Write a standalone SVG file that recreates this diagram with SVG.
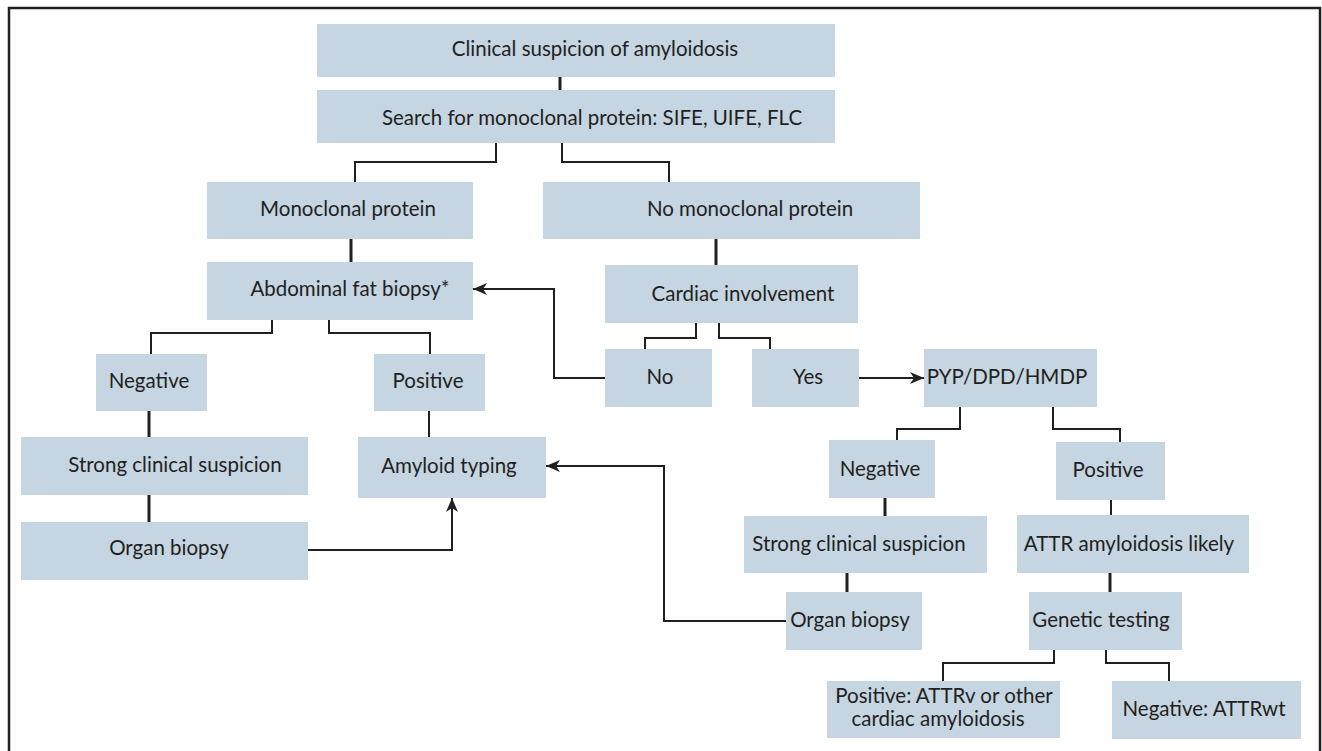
<svg xmlns="http://www.w3.org/2000/svg" width="1322" height="751" viewBox="0 0 1322 751">
<defs>
<style>
.box{fill:#c5d5e2}
.t{font-family:Lato,"Noto Sans",sans-serif;font-size:20.5px;fill:#231f20;text-anchor:middle}
.ln{fill:none;stroke:#231f20;stroke-width:2}
.thk{fill:none;stroke:#231f20;stroke-width:3}
</style>
<marker id="arr" viewBox="0 0 14 12" refX="14" refY="6" markerWidth="14" markerHeight="12" markerUnits="userSpaceOnUse" orient="auto">
<path d="M0,0 L14,6 L0,12 L4,6 z" fill="#231f20"/>
</marker>
</defs>
<rect width="1322" height="751" fill="#fff"/>
<rect x="9" y="8" width="1311" height="760" fill="none" stroke="#231f20" stroke-width="2.5"/>
<g id="connectors">
<path class="thk" d="M560,77 V90"/>
<path class="ln" d="M496,143 V162 H355 V182"/>
<path class="ln" d="M562,143 V162 H669 V182"/>
<path class="thk" d="M351,239 V262"/>
<path class="thk" d="M716,239 V265"/>
<path class="ln" d="M272,320 V333 H151 V354"/>
<path class="ln" d="M329,320 V333 H430 V354"/>
<path class="ln" d="M696,323 V338 H645 V349"/>
<path class="ln" d="M719,323 V338 H770 V349"/>
<path class="ln" d="M605,378 H554 V289 H473" marker-end="url(#arr)"/>
<path class="ln" d="M859,378 H924" marker-end="url(#arr)"/>
<path class="thk" d="M149,411 V437"/>
<path class="thk" d="M149,495 V522"/>
<path class="ln" d="M429,411 V437"/>
<path class="ln" d="M308,550 H452 V498" marker-end="url(#arr)"/>
<path class="ln" d="M786,621 H664 V466 H546" marker-end="url(#arr)"/>
<path class="ln" d="M960,407 V429 H897 V440"/>
<path class="ln" d="M1053,407 V429 H1120 V442"/>
<path class="thk" d="M885,498 V516"/>
<path class="ln" d="M1111,500 V515"/>
<path class="thk" d="M847,573 V592"/>
<path class="thk" d="M1110,573 V592"/>
<path class="ln" d="M1054,650 V663 H943 V681"/>
<path class="ln" d="M1106,650 V663 H1169 V681"/>
</g>
<g id="n1"><rect class="box" x="317" y="24" width="518" height="53"/><text class="t" x="595" y="56">Clinical suspicion of amyloidosis</text></g>
<g id="n2"><rect class="box" x="317" y="90" width="518" height="53"/><text class="t" x="592" y="125">Search for monoclonal protein: SIFE, UIFE, FLC</text></g>
<g id="n3"><rect class="box" x="207" y="182" width="266" height="57"/><text class="t" x="348" y="216">Monoclonal protein</text></g>
<g id="n4"><rect class="box" x="543" y="182" width="377" height="57"/><text class="t" x="750" y="216">No monoclonal protein</text></g>
<g id="n5"><rect class="box" x="207" y="262" width="266" height="58"/><text class="t" x="350" y="296">Abdominal fat biopsy*</text></g>
<g id="n6"><rect class="box" x="605" y="265" width="253" height="58"/><text class="t" x="743" y="301">Cardiac involvement</text></g>
<g id="n7"><rect class="box" x="605" y="349" width="107" height="58"/><text class="t" x="660" y="384">No</text></g>
<g id="n8"><rect class="box" x="752" y="349" width="107" height="58"/><text class="t" x="808" y="384">Yes</text></g>
<g id="n9"><rect class="box" x="924" y="349" width="173" height="58"/><text class="t" x="1007" y="384">PYP/DPD/HMDP</text></g>
<g id="n10"><rect class="box" x="96" y="354" width="111" height="57"/><text class="t" x="149" y="388">Negative</text></g>
<g id="n11"><rect class="box" x="374" y="354" width="111" height="57"/><text class="t" x="428" y="388">Positive</text></g>
<g id="n12"><rect class="box" x="21" y="437" width="287" height="58"/><text class="t" x="175" y="472">Strong clinical suspicion</text></g>
<g id="n13"><rect class="box" x="358" y="437" width="188" height="61"/><text class="t" x="449" y="473">Amyloid typing</text></g>
<g id="n14"><rect class="box" x="21" y="522" width="287" height="58"/><text class="t" x="169" y="555">Organ biopsy</text></g>
<g id="n15"><rect class="box" x="829" y="440" width="106" height="58"/><text class="t" x="880" y="476">Negative</text></g>
<g id="n16"><rect class="box" x="1056" y="442" width="109" height="58"/><text class="t" x="1108" y="477">Positive</text></g>
<g id="n17"><rect class="box" x="744" y="516" width="243" height="57"/><text class="t" x="859" y="551">Strong clinical suspicion</text></g>
<g id="n18"><rect class="box" x="1017" y="515" width="232" height="58"/><text class="t" x="1129" y="551">ATTR amyloidosis likely</text></g>
<g id="n19"><rect class="box" x="786" y="592" width="136" height="58"/><text class="t" x="850" y="627">Organ biopsy</text></g>
<g id="n20"><rect class="box" x="1029" y="592" width="153" height="58"/><text class="t" x="1101" y="627">Genetic testing</text></g>
<g id="n21"><rect class="box" x="827" y="681" width="233" height="57"/><text class="t" x="944" y="703">Positive: ATTRv or other</text><text class="t" x="938" y="726">cardiac amyloidosis</text></g>
<g id="n22"><rect class="box" x="1112" y="681" width="189" height="58"/><text class="t" x="1204" y="716">Negative: ATTRwt</text></g>
</svg>
